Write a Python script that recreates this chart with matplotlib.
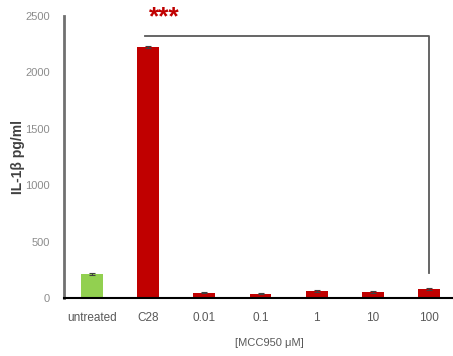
import matplotlib
matplotlib.use("Agg")
import matplotlib.pyplot as plt
import numpy as np

categories = ["untreated", "C28", "0.01", "0.1", "1", "10", "100"]
values = [213, 2225, 45, 38, 62, 55, 80]
errors = [10, 12, 5, 5, 6, 8, 6]
colors = ["#92D050", "#C00000", "#C00000", "#C00000", "#C00000", "#C00000", "#C00000"]
yticks = [0, 500, 1000, 1500, 2000, 2500]
bracket_y = 2323
bracket_end = 222

plt.rcParams["font.family"] = ["Liberation Sans", "DejaVu Sans"]

fig = plt.figure(figsize=(4.53, 3.56), dpi=100)
ax = fig.add_axes([63.5 / 453, 1 - 298 / 356, 1 - 63.5 / 453, (298 - 16) / 356])

x = np.arange(len(categories))
ax.bar(x, values, width=0.39, color=colors, zorder=2)
ax.errorbar(x, values, yerr=errors, fmt="none", ecolor="#404040",
            elinewidth=0.8, capsize=2.5, capthick=0.8, zorder=3)

ax.set_xlim(-0.5, 6.42)
ax.set_ylim(0, 2500)
ax.set_yticks(yticks)
ax.set_xticks(x)
ax.set_xticklabels(categories, fontsize=8.5, color="#595959")
ax.tick_params(axis="y", length=0, labelsize=8, labelcolor="#8c8c8c", pad=10)
ax.tick_params(axis="x", length=0, pad=10)

for s in ["top", "right"]:
    ax.spines[s].set_visible(False)
ax.spines["left"].set_color("#707070")
ax.spines["left"].set_linewidth(2)
ax.spines["bottom"].set_color("#000000")
ax.spines["bottom"].set_linewidth(1.5)

ax.set_ylabel("IL-1β pg/ml", fontsize=10, fontweight="bold", color="#404040", labelpad=0)

# significance bracket from C28 to the highest MCC950 dose
ax.plot([0.95, 6, 6], [bracket_y, bracket_y, bracket_end],
        color="#595959", lw=1.3, clip_on=False, zorder=4)
ax.text(1.3, bracket_y + 165, "***", color="#C00000", fontsize=19,
        fontweight="bold", ha="center", va="center", clip_on=False)

fig.text(269 / 453, 1 - 343 / 356, "[MCC950 μM]", fontsize=8, color="#595959",
         ha="center", va="center")

fig.savefig("out.png", dpi=100)
